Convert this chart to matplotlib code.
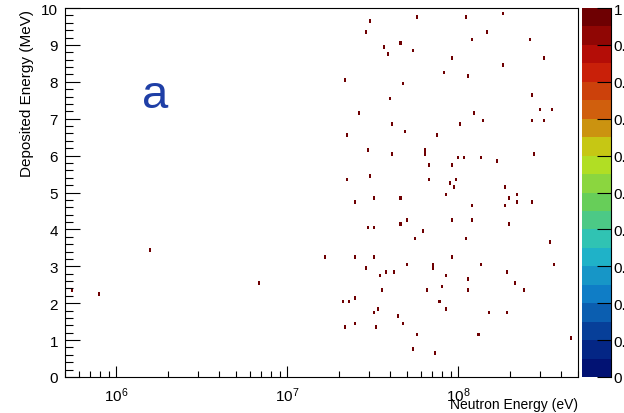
import numpy as np
import matplotlib.pyplot as plt
from matplotlib.colors import LinearSegmentedColormap, ListedColormap
from matplotlib.ticker import LogLocator, LogFormatterMathtext, MultipleLocator, NullFormatter

plt.rcParams['font.family'] = ['Liberation Sans', 'DejaVu Sans']
plt.rcParams['mathtext.fontset'] = 'custom'
plt.rcParams['mathtext.rm'] = 'Liberation Sans'
plt.rcParams['mathtext.default'] = 'regular'

# Eventos (energia do neutron em eV, energia depositada em MeV)
neutron_energy_ev = [
    3.02e7, 2.89e7, 5.65e7, 1.11e8, 1.82e8, 1.46e8, 1.19e8, 2.64e8,
    3.68e7, 4.57e7, 3.88e7, 5.43e7, 9.02e7, 3.15e8, 1.82e8, 8.20e7,
    1.13e8, 2.20e7, 4.69e7, 3.99e7, 2.69e8, 2.99e8, 3.51e8, 2.64e7,
    1.23e8, 1.38e8, 2.69e8, 3.15e8, 4.08e7, 1.03e8, 4.86e7, 2.26e7,
    7.62e7, 2.97e7, 4.08e7, 6.30e7, 6.30e7, 9.86e7, 1.09e8, 1.34e8,
    1.70e8, 2.74e8, 6.66e7, 9.19e7, 2.26e7, 3.02e7, 6.75e7, 8.80e7,
    9.64e7, 9.38e7, 1.86e8, 8.30e7, 2.19e8, 2.00e8, 3.16e7, 4.57e7,
    2.23e8, 2.69e8, 1.86e8, 2.47e7, 1.19e8, 1.19e8, 9.02e7, 5.02e7,
    4.57e7, 2.00e8, 2.96e7, 3.16e7, 6.18e7, 5.62e7, 1.11e8, 3.45e8,
    1.63e7, 2.50e7, 3.16e7, 9.02e7, 2.89e7, 3.46e7, 3.79e7, 4.27e7,
    4.91e7, 7.12e7, 7.12e7, 1.33e8, 3.60e8, 1.91e8, 8.30e7, 1.13e8,
    2.14e8, 8.00e7, 3.55e7, 6.48e7, 1.13e8, 2.39e8, 2.09e7, 2.29e7,
    2.47e7, 7.80e7, 3.36e7, 3.16e7, 8.30e7, 1.52e8, 1.91e8, 4.46e7,
    2.15e7, 2.47e7, 3.32e7, 4.69e7, 5.65e7, 1.30e8, 4.54e8, 5.43e7,
    7.26e7, 1.58e6, 7.98e5, 6.73e6, 5.57e5,
]
deposited_mev = [
    9.66, 9.36, 9.75, 9.76, 9.86, 9.36, 9.16, 9.16,
    8.96, 9.06, 8.75, 8.86, 8.65, 8.65, 8.46, 8.27,
    8.15, 8.06, 7.95, 7.55, 7.66, 7.25, 7.25, 7.15,
    7.15, 6.96, 6.96, 6.96, 6.84, 6.84, 6.65, 6.54,
    6.54, 6.15, 6.05, 6.15, 6.05, 5.95, 5.95, 5.95,
    5.85, 6.05, 5.75, 5.75, 5.36, 5.46, 5.36, 5.25,
    5.36, 5.16, 5.16, 4.94, 4.94, 4.85, 4.85, 4.85,
    4.73, 4.73, 4.63, 4.73, 4.63, 4.24, 4.24, 4.24,
    4.15, 4.15, 4.04, 4.04, 3.94, 3.74, 3.74, 3.63,
    3.23, 3.23, 3.23, 3.23, 2.93, 2.73, 2.84, 2.84,
    3.04, 3.04, 2.94, 3.04, 3.04, 2.84, 2.73, 2.64,
    2.54, 2.44, 2.33, 2.33, 2.33, 2.33, 2.03, 2.03,
    2.13, 2.03, 1.83, 1.73, 1.83, 1.73, 1.73, 1.63,
    1.33, 1.42, 1.33, 1.42, 1.13, 1.13, 1.03, 0.73,
    0.64, 3.44, 2.23, 2.55, 2.34,
]

# Binagem do histograma 2D
x_range = (5e5, 5e8)
y_range = (0, 10)
n_bins_x = 250
n_bins_y = 100

# Paleta kRainBow do ROOT
palette_stops = [0.0, 0.125, 0.25, 0.375, 0.5, 0.625, 0.75, 0.875, 1.0]
palette_red = [0, 5, 15, 35, 102, 196, 208, 199, 110]
palette_green = [0, 48, 124, 192, 206, 226, 97, 16, 0]
palette_blue = [99, 142, 198, 201, 90, 22, 13, 8, 2]
n_levels = 20

base = LinearSegmentedColormap.from_list(
    "rainbow_root",
    [(s, (r / 255, g / 255, b / 255))
     for s, r, g, b in zip(palette_stops, palette_red, palette_green, palette_blue)],
)
cmap = ListedColormap([base((i + 1) / n_levels) for i in range(n_levels)])

x_edges = np.logspace(np.log10(x_range[0]), np.log10(x_range[1]), n_bins_x + 1)
y_edges = np.linspace(y_range[0], y_range[1], n_bins_y + 1)
H, _, _ = np.histogram2d(neutron_energy_ev, deposited_mev, bins=[x_edges, y_edges])
H = np.ma.masked_equal(H, 0)

fig = plt.figure(figsize=(6.24, 4.14), dpi=100)
ax = fig.add_axes([65 / 624, 36 / 414, 513 / 624, 369 / 414])

mesh = ax.pcolormesh(x_edges, y_edges, H.T, cmap=cmap, vmin=0, vmax=1)
ax.set_xscale('log')
ax.set_xlim(*x_range)
ax.set_ylim(*y_range)

# Eixos no estilo ROOT
ax.xaxis.set_major_locator(LogLocator(base=10))
ax.xaxis.set_major_formatter(LogFormatterMathtext())
ax.xaxis.set_minor_locator(LogLocator(base=10, subs=np.arange(2, 10)))
ax.xaxis.set_minor_formatter(NullFormatter())
ax.yaxis.set_major_locator(MultipleLocator(1))
ax.yaxis.set_minor_locator(MultipleLocator(0.2))

ax.tick_params(axis='x', which='major', direction='in', length=8, width=0.8,
               top=False, labelsize=11, pad=6)
ax.tick_params(axis='x', which='minor', direction='in', length=4, width=0.8, top=False)
ax.tick_params(axis='y', which='major', direction='in', length=11, width=0.8,
               right=False, labelsize=11, pad=5)
ax.tick_params(axis='y', which='minor', direction='in', length=5.5, width=0.8, right=False)
for s in ax.spines.values():
    s.set_linewidth(0.8)

ax.set_xlabel("Neutron Energy (eV)", loc='right', fontsize=10)
ax.xaxis.set_label_coords(1.0, -0.054)
ax.set_ylabel("Deposited Energy (MeV)", loc='top', fontsize=11)
ax.yaxis.set_label_coords(-0.060, 0.997)

ax.text(0.176, 0.765, "a", transform=ax.transAxes, fontsize=34,
        color='#1f3fa6', ha='center', va='center')

# Paleta de cores
cax = fig.add_axes([582 / 624, 36 / 414, 29 / 624, 369 / 414])
cb = fig.colorbar(mesh, cax=cax, ticks=np.arange(0, 1.01, 0.1), format='%g')
cb.outline.set_visible(False)
cb.minorticks_off()
cax.tick_params(direction='in', length=10, width=0.8, pad=2, labelsize=11)
cax.plot([1, 1], [0, 1], transform=cax.transAxes, color='k', lw=0.8, clip_on=False)

fig.savefig("out.png", dpi=100)
plt.close()
